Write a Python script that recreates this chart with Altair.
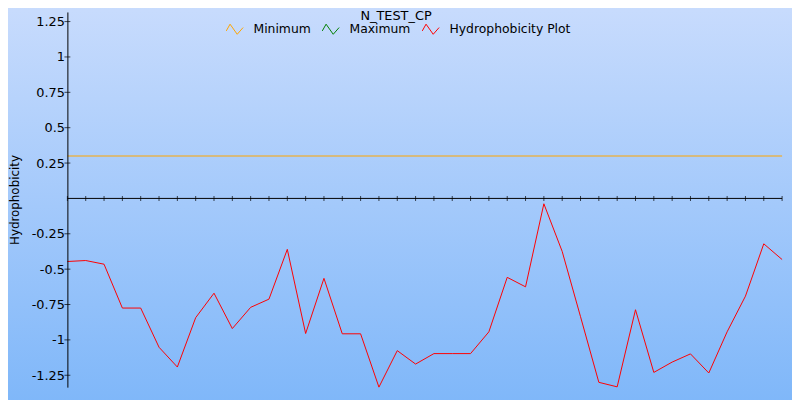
import altair as alt
import pandas as pd

# ---- data ----
positions = list(range(40))
hydrophobicity = [
    -0.446, -0.439, -0.465, -0.775, -0.775, -1.052, -1.192, -0.843, -0.670, -0.920,
    -0.770, -0.712, -0.360, -0.955, -0.565, -0.957, -0.957, -1.334, -1.076, -1.171,
    -1.097, -1.097, -1.097, -0.943, -0.558, -0.625, -0.038, -0.375, -0.836, -1.300,
    -1.332, -0.787, -1.230, -1.157, -1.099, -1.234, -0.943, -0.691, -0.321, -0.432,
]
minimum_value = [0.3]
series_names = ["Minimum", "Maximum", "Hydrophobicity Plot"]
series_colors = ["#ffa500", "#008000", "#ff0000"]
y_tick_values = [-1.25, -1, -0.75, -0.5, -0.25, 0.25, 0.5, 0.75, 1, 1.25]
chart_title = ["N_TEST_CP"]
y_title = "Hydrophobicity"

FONT = "DejaVu Sans"
W, H = 722, 379

line_df = pd.DataFrame({"pos": positions, "value": hydrophobicity,
                        "series": ["Hydrophobicity Plot"] * len(positions)})
min_df = pd.DataFrame({"value": minimum_value, "series": ["Minimum"]})
ytick_df = pd.DataFrame({"v": y_tick_values})
xtick_df = pd.DataFrame({"pos": positions})
title_df = pd.DataFrame({"t": chart_title})

xs = alt.Scale(domain=[0, 39], nice=False, zero=False)
ys = alt.Scale(domain=[-1.334, 1.318], nice=False, zero=False)
cs = alt.Scale(domain=series_names, range=series_colors)

y_axis = alt.Axis(
    orient="left", values=y_tick_values, labelExpr="toString(datum.value)",
    ticks=False, labelPadding=3, labelFont=FONT, labelFontSize=13, labelColor="black",
    domainColor="black", domainWidth=1, grid=False, zindex=2,
    title=y_title, titleFont=FONT, titleFontSize=12, titleFontWeight="normal",
    titleColor="black", titleAngle=270, titleX=-53, titleY=189.5,
    titleAlign="center", titleBaseline="middle",
)

bg = alt.Chart(pd.DataFrame({"a": [0]})).mark_rect(
    color=alt.Gradient(
        gradient="linear",
        stops=[alt.GradientStop(color="#c9dcfd", offset=0),
               alt.GradientStop(color="#7fb7f9", offset=1)],
        x1=0, x2=0, y1=0, y2=1,
    )
).encode(x=alt.value(-70), x2=alt.value(740), y=alt.value(-12), y2=alt.value(395))

zigzag = "M-1,0.2L-0.55,-0.6L0.3,0.6L1,-0.2"
legend = alt.Legend(
    title=None, orient="none", legendX=160, legendY=8, direction="horizontal",
    symbolType=zigzag, symbolSize=289, symbolStrokeWidth=1,
    symbolFillColor="transparent", labelFont=FONT, labelFontSize=12.5,
    labelColor="black", labelOffset=10, columnPadding=9, padding=0, zindex=2,
)

min_rule = alt.Chart(min_df).mark_rule(strokeWidth=1.2).encode(
    y=alt.Y("value:Q", scale=ys, axis=y_axis),
    color=alt.Color("series:N", scale=cs, legend=legend),
)

zero_rule = alt.Chart(pd.DataFrame({"a": [0]})).mark_rule(color="black", strokeWidth=1).encode(
    y=alt.datum(0, scale=ys, axis=y_axis),
)

x_ticks = alt.Chart(xtick_df).mark_tick(orient="vertical", size=5, thickness=1, color="black").encode(
    x=alt.X("pos:Q", scale=xs, axis=None),
    y=alt.datum(0, scale=ys, axis=y_axis),
)

line = alt.Chart(line_df).mark_line(strokeWidth=1).encode(
    x=alt.X("pos:Q", scale=xs, axis=None),
    y=alt.Y("value:Q", scale=ys, axis=y_axis),
    color=alt.Color("series:N", scale=cs, legend=legend),
)

y_ticks = alt.Chart(ytick_df).mark_tick(orient="horizontal", size=6, thickness=1, color="black").encode(
    y=alt.Y("v:Q", scale=ys, axis=y_axis),
    x=alt.value(0),
)

title = alt.Chart(title_df).mark_text(
    font=FONT, fontSize=13, color="black", align="center", baseline="alphabetic"
).encode(text="t:N", x=alt.value(332), y=alt.value(8))

chart = alt.layer(bg, min_rule, zero_rule, x_ticks, line, y_ticks, title).properties(
    width=W, height=H,
    padding={"left": 60, "top": 2, "right": 10, "bottom": 11},
    autosize=alt.AutoSizeParams(type="none"),
).configure_view(stroke=None).configure(background="#c9dcfd")

chart.save("out.html", embed_options={"renderer": "svg", "actions": False})
